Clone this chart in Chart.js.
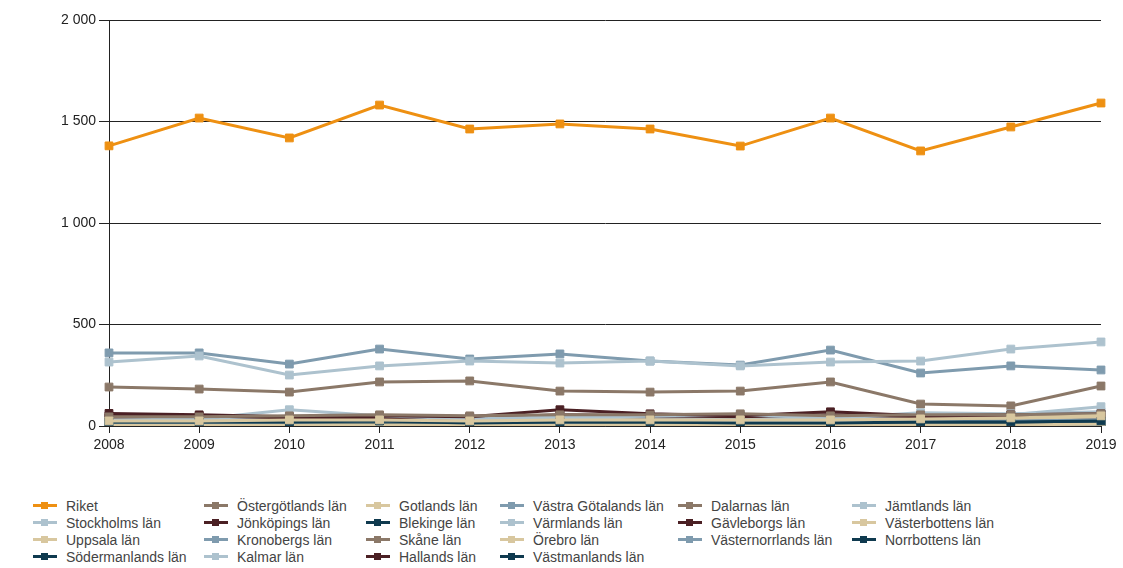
<!DOCTYPE html>
<html><head><meta charset="utf-8">
<script src="https://cdn.jsdelivr.net/npm/chart.js@4.4.1/dist/chart.umd.min.js"></script>
<style>
html,body{margin:0;padding:0;background:#fff;}
#wrap{position:relative;width:1123px;height:568px;}
#c{position:absolute;left:0;top:0;}
#legend{position:absolute;left:33px;top:497px;display:grid;grid-template-rows:repeat(4,17px);grid-template-columns:171px 162px 134px 178px 174px 200px;font:14px "Liberation Sans",Arial,sans-serif;color:#444;}
.li{display:flex;align-items:center;white-space:nowrap;}
.mk{position:relative;width:24px;height:9px;margin-right:9px;}
.mk .ln{position:absolute;left:0;top:3px;width:24px;height:3px;}
.mk .sq{position:absolute;left:8px;top:1px;width:7px;height:7px;}
</style></head>
<body><div id="wrap"><canvas id="c" width="1123" height="490"></canvas><div id="legend"></div></div>
<script>
const years = ['2008','2009','2010','2011','2012','2013','2014','2015','2016','2017','2018','2019'];
const yTicks = [0,500,1000,1500,2000];
const names = ['Riket','Stockholms län','Uppsala län','Södermanlands län','Östergötlands län','Jönköpings län','Kronobergs län','Kalmar län','Gotlands län','Blekinge län','Skåne län','Hallands län','Västra Götalands län','Värmlands län','Örebro län','Västmanlands län','Dalarnas län','Gävleborgs län','Västernorrlands län','Jämtlands län','Västerbottens län','Norrbottens län'];
const riket        = [1380,1517,1419,1581,1463,1488,1463,1379,1517,1355,1473,1591];
const stockholm    = [315,345,251,296,320,310,320,296,315,320,379,414];
const uppsala      = [25,25,30,30,25,30,30,30,30,35,40,50];
const sodermanland = [20,20,20,25,15,20,20,15,15,20,20,25];
const ostergotland = [45,45,50,55,50,55,55,60,50,55,55,60];
const jonkoping    = [62,55,45,50,45,80,60,50,70,50,55,60];
const kronoberg    = [20,20,20,25,20,20,25,25,20,25,25,30];
const kalmar       = [30,35,80,50,35,45,50,55,40,65,60,70];
const gotland      = [5,5,5,5,5,5,5,5,5,5,5,10];
const blekinge     = [10,10,10,10,10,10,10,10,10,10,10,10];
const skane        = [192,182,167,217,222,172,167,172,217,108,99,197];
const halland      = [50,50,40,40,40,55,50,45,55,45,50,55];
const vastraGotaland = [360,360,305,379,330,355,320,300,374,261,296,276];
const varmland     = [25,30,40,45,30,35,45,40,35,45,50,60];
const orebro       = [20,20,25,25,20,25,25,25,25,30,35,45];
const vastmanland  = [15,15,15,20,15,15,20,15,15,15,15,20];
const dalarna      = [30,30,30,35,30,30,35,35,35,40,40,45];
const gavleborg    = [40,35,30,35,30,40,35,35,45,35,40,45];
const vasternorrland = [25,25,25,25,25,25,30,25,25,30,30,35];
const jamtland     = [15,20,25,20,20,25,25,30,25,40,55,95];
const vasterbotten = [15,15,15,20,15,20,20,20,20,25,30,40];
const norrbotten   = [20,20,20,30,15,25,25,15,10,15,15,15];

const series = [riket,stockholm,uppsala,sodermanland,ostergotland,jonkoping,kronoberg,kalmar,gotland,blekinge,skane,halland,vastraGotaland,varmland,orebro,vastmanland,dalarna,gavleborg,vasternorrland,jamtland,vasterbotten,norrbotten];
const cycle = ['#adc2ce','#d8c79f','#0f3a4f','#8b7868','#4b2024','#7f9bae'];
const colors = ['#ee9012'].concat(series.slice(1).map((_,i)=>cycle[i%6]));

const datasets = series.map((d,i)=>({
  label:names[i], data:d, borderColor:colors[i], backgroundColor:colors[i],
  borderWidth:3, pointStyle:'rect', pointRadius:5.5, pointBorderWidth:1,
  pointBackgroundColor:colors[i], pointBorderColor:colors[i], tension:0, fill:false
}));

new Chart(document.getElementById('c'),{
  type:'line',
  data:{labels:years,datasets},
  options:{
    responsive:false, animation:false,
    layout:{padding:{left:0,right:22,top:20,bottom:0}},
    plugins:{legend:{display:false},tooltip:{enabled:false}},
    scales:{
      x:{
        offset:false,
        border:{color:'#222',width:1},
        grid:{display:true,drawOnChartArea:false,drawTicks:true,tickLength:7,color:'#222'},
        ticks:{color:'#222',font:{family:'"Liberation Sans", Arial, sans-serif',size:14},padding:4,maxRotation:0},
        afterFit:s=>{s.height=64;}
      },
      y:{
        min:0,max:2000,
        afterBuildTicks:s=>{s.ticks=yTicks.map(v=>({value:v}));},
        border:{color:'#222',width:1},
        grid:{color:'#222',lineWidth:1,tickLength:10},
        ticks:{color:'#222',font:{family:'"Liberation Sans", Arial, sans-serif',size:14},padding:3,
          callback:v=>String(v).replace(/\B(?=(\d{3})+(?!\d))/g,' ')},
        afterFit:s=>{s.width=109;}
      }
    }
  }
});

const lg=document.getElementById('legend');
names.forEach((n,i)=>{
  const el=document.createElement('div');el.className='li';
  let col,row;
  if(i<16){col=Math.floor(i/4);row=i%4;}else{col=4+Math.floor((i-16)/3);row=(i-16)%3;}
  el.style.gridColumn=(col+1);el.style.gridRow=(row+1);
  el.innerHTML='<span class="mk"><span class="ln" style="background:'+colors[i]+'"></span><span class="sq" style="background:'+colors[i]+'"></span></span><span></span>';
  el.lastChild.textContent=n;
  lg.appendChild(el);
});
</script></body></html>
